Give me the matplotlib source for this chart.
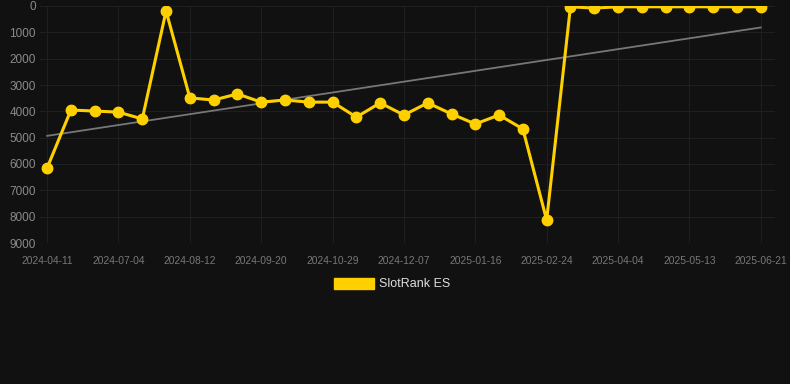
import numpy as np
import matplotlib
matplotlib.use("Agg")
import matplotlib.pyplot as plt
from matplotlib.patches import Patch

plt.rcParams['font.family'] = ['Liberation Sans', 'DejaVu Sans']

# one point per date, tick label on every third one
dates = ["2024-04-11", "2024-06-08", "2024-06-21", "2024-07-04", "2024-07-17",
         "2024-07-30", "2024-08-12", "2024-08-25", "2024-09-07", "2024-09-20",
         "2024-10-03", "2024-10-16", "2024-10-29", "2024-11-11", "2024-11-24",
         "2024-12-07", "2024-12-20", "2025-01-03", "2025-01-16", "2025-01-29",
         "2025-02-11", "2025-02-24", "2025-03-09", "2025-03-22", "2025-04-04",
         "2025-04-17", "2025-04-30", "2025-05-13", "2025-05-26", "2025-06-08",
         "2025-06-21"]
rank = [6150, 3950, 3990, 4030, 4290, 190, 3490, 3570, 3340, 3650,
        3570, 3650, 3650, 4220, 3680, 4140, 3680, 4100, 4480, 4140,
        4670, 8130, 30, 80, 30, 30, 30, 30, 30, 30, 30]
yticks = [0, 1000, 2000, 3000, 4000, 5000, 6000, 7000, 8000, 9000]

bg = "#111111"
fig = plt.figure(figsize=(7.9, 3.84), dpi=100, facecolor=bg)
ax = fig.add_axes([40/790, 1-243/384, (775-40)/790, (243-6)/384])
ax.set_facecolor(bg)

x = np.arange(len(rank))
ax.plot(x, rank, color="#FFD000", lw=2.2, marker="o", ms=7.5, zorder=3)

# trend line (least squares)
k, b = np.polyfit(x, rank, 1)
ax.plot(x, k*x + b, color="#777777", lw=1.3, zorder=2)

ax.set_ylim(9000, 0)
ax.set_xlim(-0.3, 30.6)
ax.set_yticks(yticks)
ax.set_yticklabels([str(v) for v in yticks])
ax.set_xticks(x[::3])
ax.set_xticklabels(dates[::3])
ax.grid(True, color="#1f1f1f", lw=0.8)
for s in ax.spines.values():
    s.set_visible(False)
ax.tick_params(axis="y", length=0, pad=3, labelsize=8.5, labelcolor="#8a8a8a")
ax.tick_params(axis="x", length=0, pad=9, labelsize=7.4, labelcolor="#777777")

fig.legend(handles=[Patch(color="#FFD000", label="SlotRank ES")],
           loc="center", bbox_to_anchor=(392/790, 1-284/384), frameon=False,
           fontsize=9, labelcolor="#dddddd", handlelength=3.2,
           handleheight=1.0, handletextpad=0.4)

fig.savefig("out.png", dpi=100, facecolor=bg)
